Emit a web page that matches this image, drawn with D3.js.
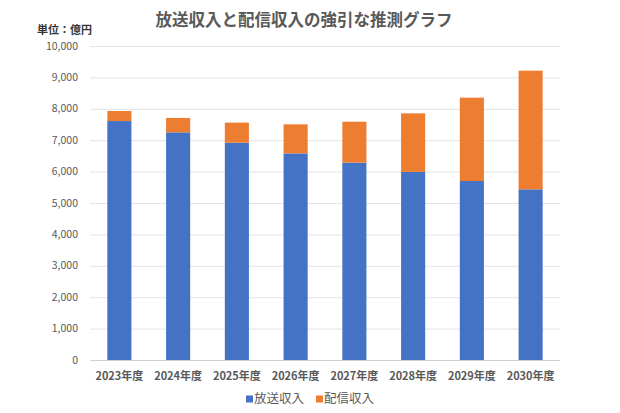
<!DOCTYPE html>
<html>
<head>
<meta charset="utf-8">
<script src="https://cdn.jsdelivr.net/npm/d3@7"></script>
<style>
  body { margin: 0; background: #fff; }
  svg { font-family: "Noto Sans CJK JP", "Noto Sans", sans-serif; }
</style>
</head>
<body>
<svg id="chart" width="620" height="413"></svg>
<script>
// data (億円)
const years = ['2023年度', '2024年度', '2025年度', '2026年度', '2027年度', '2028年度', '2029年度', '2030年度'];
const broadcast = [7610, 7250, 6920, 6580, 6285, 5990, 5700, 5435];
const streaming = [320, 460, 640, 925, 1305, 1865, 2655, 3780];
const seriesNames = ['放送収入', '配信収入'];
const yTicks = [0, 1000, 2000, 3000, 4000, 5000, 6000, 7000, 8000, 9000, 10000];

const colors = ['#4472C4', '#ED7D31'];
const svg = d3.select('#chart');
const margin = { top: 46, right: 60, bottom: 53, left: 90 };
const width = 620, height = 413;

const rows = years.map((y, i) => ({ year: y, [seriesNames[0]]: broadcast[i], [seriesNames[1]]: streaming[i] }));
const stack = d3.stack().keys(seriesNames);
const layers = stack(rows);

const x = d3.scaleBand()
  .domain(years)
  .range([margin.left, width - margin.right])
  .paddingInner(0.59)
  .paddingOuter(0.295);

const y = d3.scaleLinear()
  .domain([0, 10000])
  .range([height - margin.bottom, margin.top]);

// gridlines
svg.append('g')
  .selectAll('line')
  .data(yTicks)
  .join('line')
  .attr('x1', margin.left)
  .attr('x2', width - margin.right)
  .attr('y1', d => y(d) + 0.5)
  .attr('y2', d => y(d) + 0.5)
  .attr('stroke', d => d === 0 ? '#d0d0d0' : '#e3e3e3')
  .attr('stroke-width', 1);

// y labels
const fmt = d3.format(',');
svg.append('g')
  .selectAll('text')
  .data(yTicks)
  .join('text')
  .attr('x', 78)
  .attr('y', d => y(d))
  .attr('dy', '0.35em')
  .attr('text-anchor', 'end')
  .attr('font-size', 10.5)
  .attr('fill', '#595959')
  .text(d => fmt(d));

// bars
svg.append('g')
  .selectAll('g')
  .data(layers)
  .join('g')
  .attr('fill', (d, i) => colors[i])
  .selectAll('rect')
  .data(d => d)
  .join('rect')
  .attr('x', d => x(d.data.year))
  .attr('y', d => y(d[1]))
  .attr('width', x.bandwidth())
  .attr('height', d => y(d[0]) - y(d[1]));

// x labels
svg.append('g')
  .selectAll('text')
  .data(years)
  .join('text')
  .attr('x', d => x(d) + x.bandwidth() / 2)
  .attr('y', 376)
  .attr('dy', '0.35em')
  .attr('text-anchor', 'middle')
  .attr('font-size', 11)
  .attr('font-weight', 'bold')
  .attr('fill', '#595959')
  .text(d => d);

// title
svg.append('text')
  .attr('x', 304)
  .attr('y', 20.5)
  .attr('dy', '0.35em')
  .attr('text-anchor', 'middle')
  .attr('font-size', 16.5)
  .attr('font-weight', 'bold')
  .attr('fill', '#595959')
  .text('放送収入と配信収入の強引な推測グラフ');

// unit
svg.append('text')
  .attr('x', 37)
  .attr('y', 30)
  .attr('dy', '0.35em')
  .attr('font-size', 11)
  .attr('font-weight', 'bold')
  .attr('fill', '#333')
  .text('単位：億円');

// legend
const legend = svg.append('g')
  .selectAll('g')
  .data(seriesNames)
  .join('g')
  .attr('transform', (d, i) => `translate(${246 + i * 70},399)`);

legend.append('rect')
  .attr('x', 0)
  .attr('y', -3.5)
  .attr('width', 7)
  .attr('height', 7)
  .attr('fill', (d, i) => colors[i]);

legend.append('text')
  .attr('x', 8)
  .attr('y', 0)
  .attr('dy', '0.35em')
  .attr('font-size', 12.5)
  .attr('fill', '#595959')
  .text(d => d);
</script>
</body>
</html>
